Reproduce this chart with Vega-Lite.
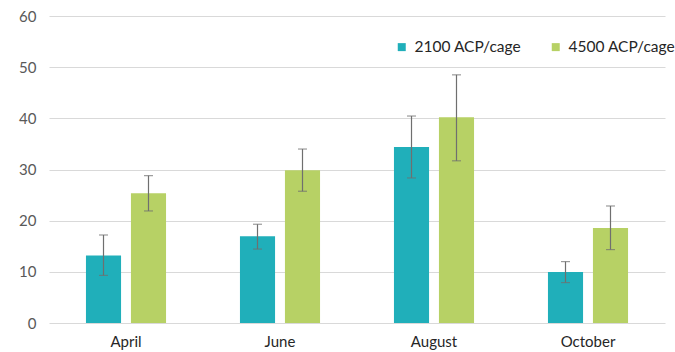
{
  "$schema": "https://vega.github.io/schema/vega-lite/v6.json",
  "autosize": "none",
  "width": 616,
  "height": 307,
  "padding": {"left": 49, "top": 16, "right": 10, "bottom": 29},
  "background": "white",
  "config": {
    "view": {"stroke": null},
    "font": "Lato"
  },
  "data": {
    "values": [
      {"month": "April", "group": "2100 ACP/cage", "value": 13.2, "lo": 9.3, "hi": 17.2},
      {"month": "April", "group": "4500 ACP/cage", "value": 25.35, "lo": 21.9, "hi": 28.8},
      {"month": "June", "group": "2100 ACP/cage", "value": 16.95, "lo": 14.45, "hi": 19.3},
      {"month": "June", "group": "4500 ACP/cage", "value": 29.85, "lo": 25.75, "hi": 34.0},
      {"month": "August", "group": "2100 ACP/cage", "value": 34.4, "lo": 28.35, "hi": 40.45},
      {"month": "August", "group": "4500 ACP/cage", "value": 40.2, "lo": 31.7, "hi": 48.5},
      {"month": "October", "group": "2100 ACP/cage", "value": 9.97, "lo": 7.9, "hi": 12.0},
      {"month": "October", "group": "4500 ACP/cage", "value": 18.57, "lo": 14.35, "hi": 22.87}
    ]
  },
  "encoding": {
    "x": {
      "field": "month", "type": "nominal",
      "sort": ["April", "June", "August", "October"],
      "scale": {"paddingInner": 0.48, "paddingOuter": 0.24},
      "axis": {"title": null, "labelAngle": 0, "domain": false, "ticks": false, "labelFontSize": 15, "labelColor": "#262626", "labelPadding": 11}
    },
    "xOffset": {
      "field": "group", "type": "nominal",
      "scale": {"paddingInner": 0.22, "paddingOuter": 0}
    }
  },
  "layer": [
    {
      "mark": {"type": "bar"},
      "encoding": {
        "y": {
          "field": "value", "type": "quantitative",
          "scale": {"domain": [0, 60], "nice": false},
          "axis": {"title": null, "values": [0,10,20,30,40,50,60], "labelOverlap": false, "domain": false, "ticks": false, "labelFontSize": 15, "labelColor": "#595959", "labelPadding": 13, "gridColor": "#d9d9d9", "gridWidth": 1}
        },
        "color": {
          "field": "group", "type": "nominal",
          "scale": {"domain": ["2100 ACP/cage", "4500 ACP/cage"], "range": ["#20AFBA", "#B7D165"]},
          "legend": {
            "title": null, "orient": "none", "direction": "horizontal",
            "legendX": 345, "legendY": 23,
            "symbolType": "square", "symbolSize": 64, "symbolStrokeWidth": 0,
            "labelFontSize": 15.5, "labelColor": "#262626", "labelOffset": 5, "columnPadding": 26
          }
        }
      }
    },
    {
      "mark": {"type": "rule", "color": "#6f6f6f", "strokeWidth": 1.2},
      "encoding": {
        "y": {"field": "lo", "type": "quantitative"},
        "y2": {"field": "hi"}
      }
    },
    {
      "mark": {"type": "tick", "color": "#6f6f6f", "size": 9, "thickness": 1.2},
      "encoding": {
        "y": {"field": "lo", "type": "quantitative"}
      }
    },
    {
      "mark": {"type": "tick", "color": "#6f6f6f", "size": 9, "thickness": 1.2},
      "encoding": {
        "y": {"field": "hi", "type": "quantitative"}
      }
    }
  ]
}
